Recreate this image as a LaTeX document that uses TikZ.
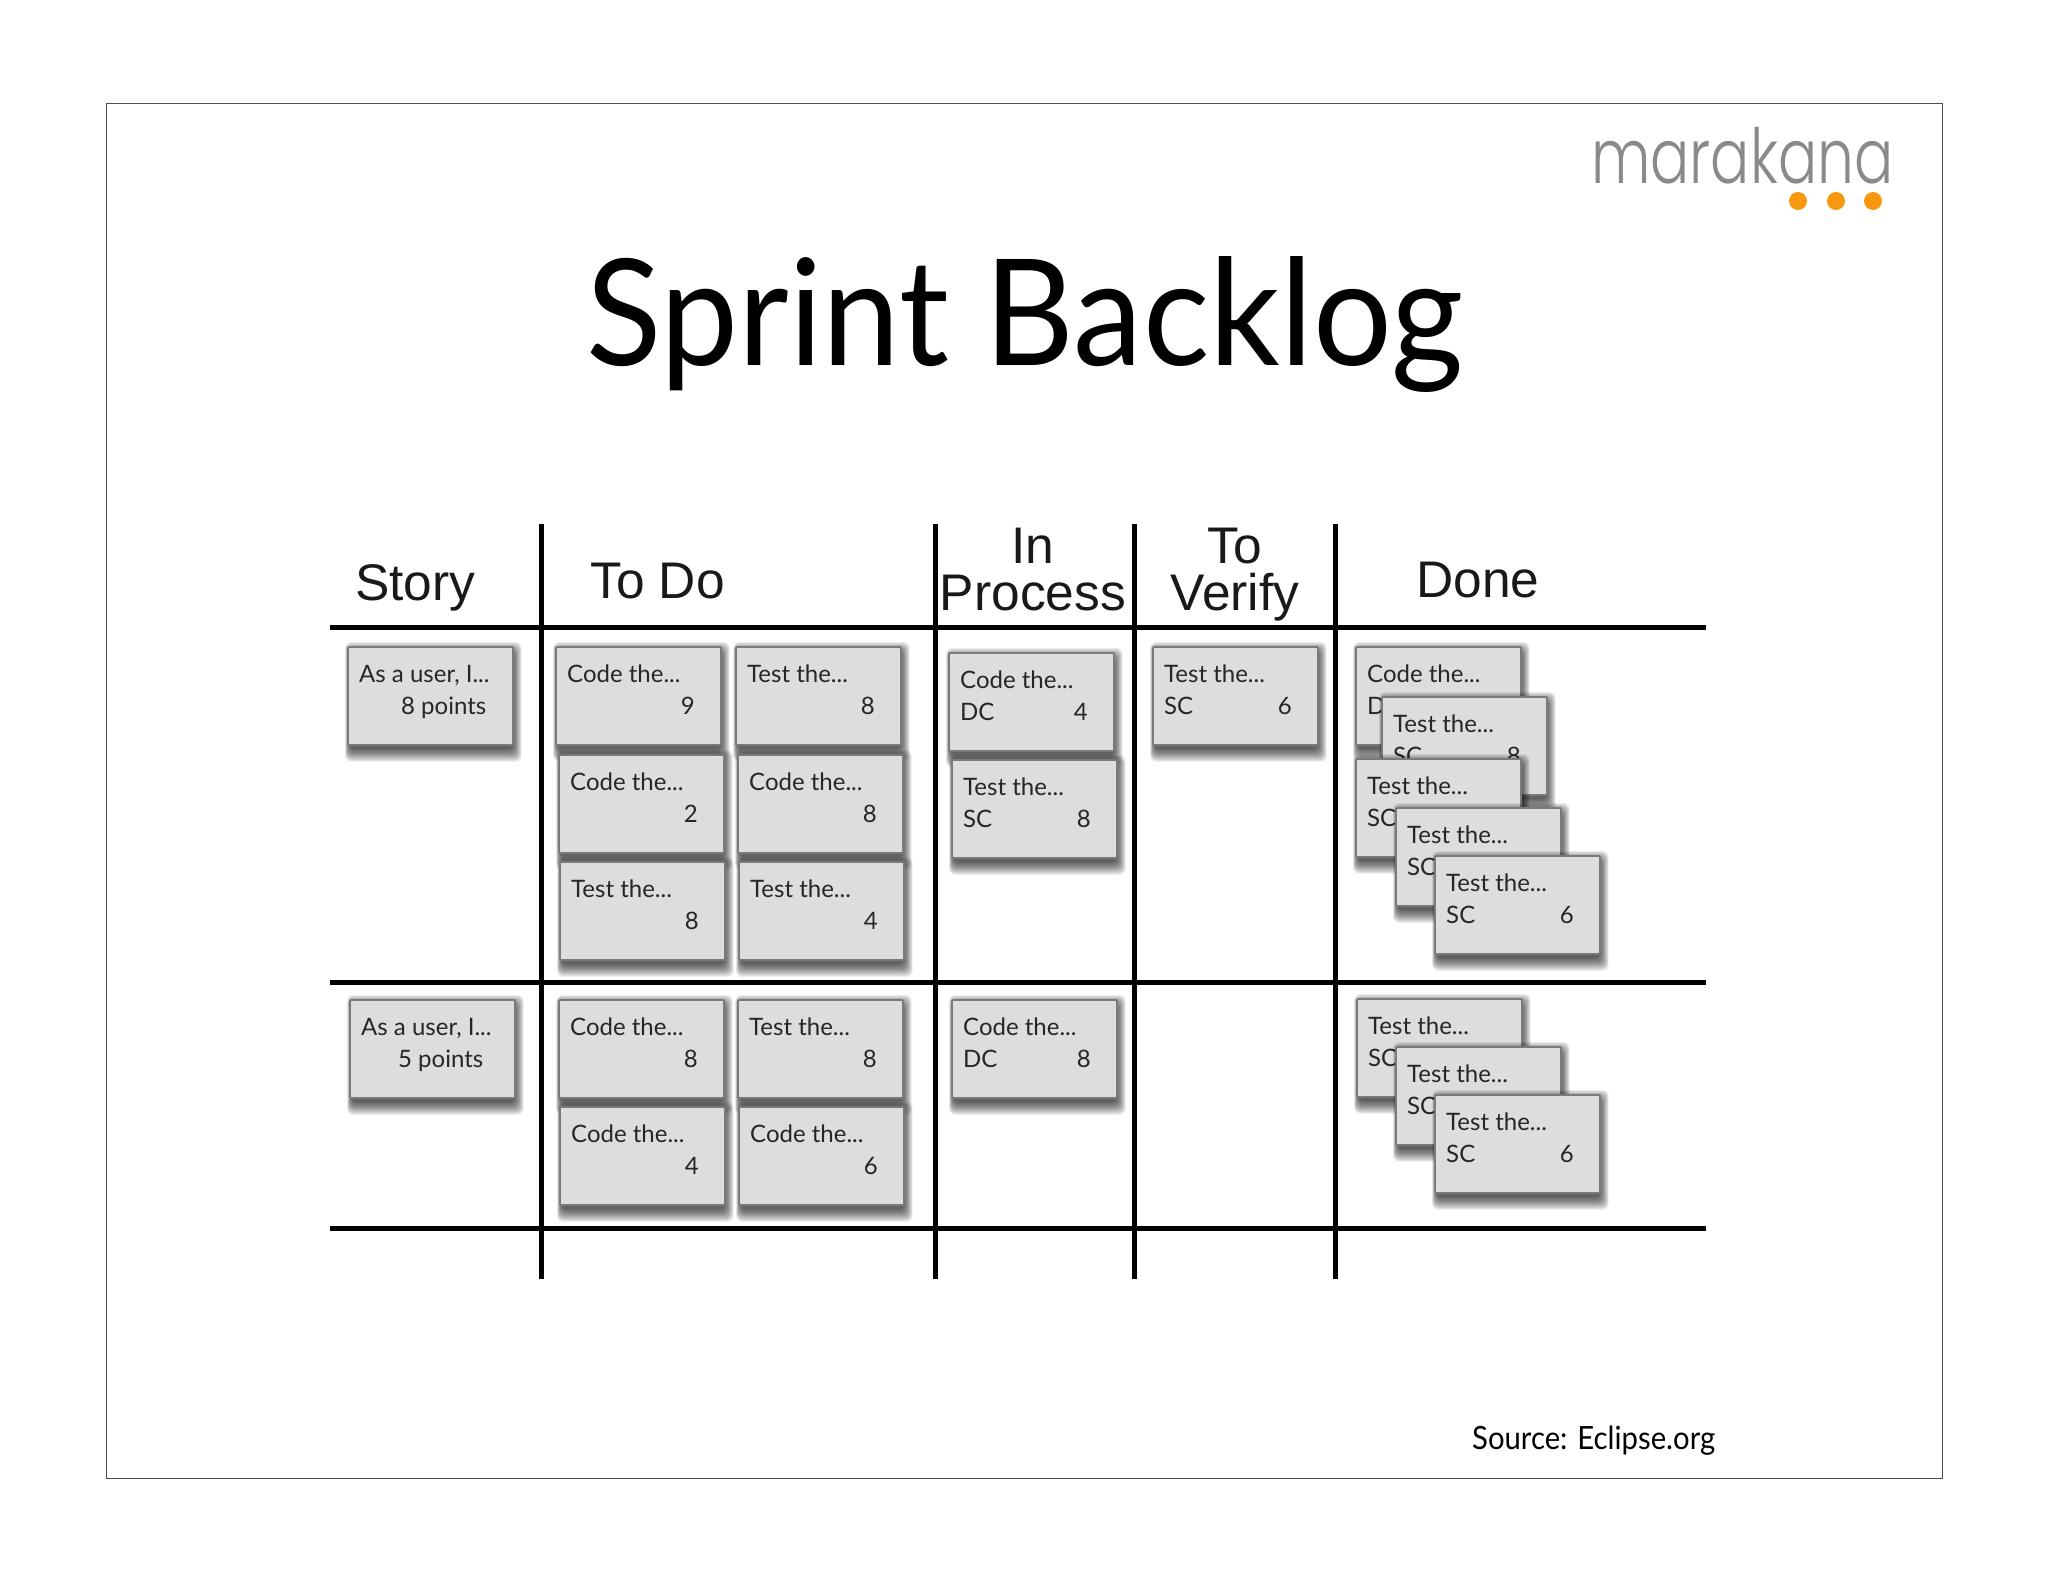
\documentclass[tikz,border=0pt]{standalone}
\usepackage{fontspec}
\setmainfont{Lato}
\newfontfamily\headfont{Liberation Sans}
\newfontfamily\cardfont{Lato}
\newfontfamily\logofont{Poppins Light}
\definecolor{cardfill}{HTML}{DFDDDB}
\definecolor{cardedge}{HTML}{7A7A7A}
\definecolor{dotorange}{HTML}{F7980F}
\definecolor{logogray}{HTML}{8A8A8A}
\tikzset{
  cardbody/.style={draw=cardedge,fill=cardfill,line width=1.8pt,rounded corners=1pt,minimum width=165pt,minimum height=98pt,anchor=north west,inner sep=0pt},
  cardtext/.style={font=\cardfont\fontsize{24}{24}\selectfont,text=black!85,inner sep=0pt},
  gridline/.style={line width=5pt,black},
  headtext/.style={font=\headfont\fontsize{51.5}{51.5}\selectfont,inner sep=0pt,text=black!90},
  logodot/.style={circle,fill=dotorange,minimum size=18pt,inner sep=0pt}
}
% name, x, y, first line, second-line left text, its x offset, right text
\newcommand{\card}[7]{%
  \begin{scope}[shift={(#2,#3)}]
    \foreach \s in {12,11,10,9,8,7,6,5,4,3,2,1}{\fill[black,opacity=.075,rounded corners=6pt] ({3-.4*\s},{8-\s}) rectangle ({165+.8*\s},{102+1.15*\s});}
    \node[cardbody] (#1) at (0,0) {};
    \node[cardtext,anchor=base west] (#1a) at (12,36) {#4};
    \node[cardtext,anchor=base west] (#1b) at (#6,68) {#5};
    \node[cardtext,anchor=base east] (#1c) at (140,68) {#7};
  \end{scope}}
\begin{document}
\begin{tikzpicture}[x=1pt,y=-1pt]
\useasboundingbox (0,0) rectangle (2048,1582);
\fill[white] (0,0) rectangle (2048,1582);
\node[draw=black!70,line width=1.2pt,minimum width=1836pt,minimum height=1375pt,anchor=north west,inner sep=0pt] (frame) at (106,103) {};
% logo
\node[font=\logofont\fontsize{76}{76}\selectfont,text=logogray,anchor=base west,inner sep=0pt,xscale=.765] (logo) at (1591,183) {marakana};
\node[logodot] (d1) at (1798,201) {};
\node[logodot] (d2) at (1836,201) {};
\node[logodot] (d3) at (1873,201) {};
% title
\node[font=\fontsize{148}{148}\selectfont,anchor=base,inner sep=0pt,xscale=.94] (title) at (1025,365) {Sprint Backlog};
\node[font=\fontsize{32}{32}\selectfont,anchor=base west,inner sep=0pt,xscale=.915] (source) at (1472,1449) {Source: Eclipse.org};
% grid
\coordinate (ha) at (330,627); \coordinate (hb) at (1706,627);
\coordinate (ma) at (330,982); \coordinate (mb) at (1706,982);
\coordinate (la) at (330,1228); \coordinate (lb) at (1706,1228);
\coordinate (v1a) at (541,524); \coordinate (v1b) at (541,1279);
\coordinate (v2a) at (935,524); \coordinate (v2b) at (935,1279);
\coordinate (v3a) at (1134,524); \coordinate (v3b) at (1134,1279);
\coordinate (v4a) at (1335,524); \coordinate (v4b) at (1335,1279);
\draw[gridline] (ha)--(hb); \draw[gridline] (ma)--(mb); \draw[gridline] (la)--(lb);
\draw[gridline] (v1a)--(v1b); \draw[gridline] (v2a)--(v2b); \draw[gridline] (v3a)--(v3b); \draw[gridline] (v4a)--(v4b);
% headers
\node[headtext,anchor=base west] (hstory) at (355,600) {Story};
\node[headtext,anchor=base west] (htodo) at (590,598) {To Do};
\node[headtext,anchor=base] (hin) at (1033,563) {In};
\node[headtext,anchor=base] (hproc) at (1033,610) {Process};
\node[headtext,anchor=base] (hto) at (1235,563) {To};
\node[headtext,anchor=base] (hver) at (1235,610) {Verify};
\node[headtext,anchor=base west] (hdone) at (1416,597) {Done};
% story
\card{s1}{347}{646}{As a user, I...}{8 points}{54}{}
\card{s2}{349}{999}{As a user, I...}{5 points}{49}{}
% to do
\card{t1}{555}{646}{Code the...}{}{12}{9}
\card{t2}{735}{646}{Test the...}{}{12}{8}
\card{t3}{558}{754}{Code the...}{}{12}{2}
\card{t4}{737}{754}{Code the...}{}{12}{8}
\card{t5}{559}{861}{Test the...}{}{12}{8}
\card{t6}{738}{861}{Test the...}{}{12}{4}
\card{t7}{558}{999}{Code the...}{}{12}{8}
\card{t8}{737}{999}{Test the...}{}{12}{8}
\card{t9}{559}{1106}{Code the...}{}{12}{4}
\card{t10}{738}{1106}{Code the...}{}{12}{6}
% in process
\card{p1}{948}{652}{Code the...}{DC}{12}{4}
\card{p2}{951}{759}{Test the...}{SC}{12}{8}
\card{p3}{951}{999}{Code the...}{DC}{12}{8}
% to verify
\card{v1}{1152}{646}{Test the...}{SC}{12}{6}
% done
\card{d1c}{1355}{646}{Code the...}{DC}{12}{4}
\card{d2c}{1381}{696}{Test the...}{SC}{12}{8}
\card{d3c}{1355}{758}{Test the...}{SC}{12}{6}
\card{d4c}{1395}{807}{Test the...}{SC}{12}{6}
\card{d5c}{1434}{855}{Test the...}{SC}{12}{6}
\card{d6c}{1356}{998}{Test the...}{SC}{12}{6}
\card{d7c}{1395}{1046}{Test the...}{SC}{12}{6}
\card{d8c}{1434}{1094}{Test the...}{SC}{12}{6}
\end{tikzpicture}
\end{document}
